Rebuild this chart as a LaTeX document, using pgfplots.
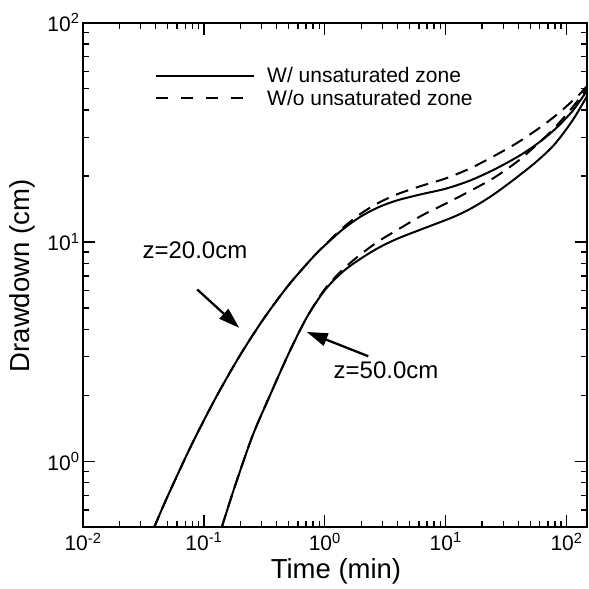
\documentclass[border=0pt]{standalone}
\usepackage{fontspec}
\setmainfont{Liberation Sans}
\usepackage{pgfplots}
\pgfplotsset{compat=1.18}
\usetikzlibrary{arrows.meta}
\newcommand{\tickfont}{\fontsize{21}{25}\selectfont}
\newcommand{\labfont}{\fontsize{27.5}{32}\selectfont}
\newcommand{\legfont}{\fontsize{21}{25}\selectfont}
\newcommand{\annfont}{\fontsize{24}{28}\selectfont}
\begin{document}
\begin{tikzpicture}
\begin{axis}[
  xmode=log, ymode=log,
  scale only axis, width=504pt, height=504.6pt,
  xmin=0.01, xmax=147.5, ymin=0.5, ymax=100,
  clip mode=individual,
  axis line style={line width=2pt},
  every tick/.style={black, line width=1.3pt},
  major tick length=12pt, minor tick length=6pt,
  tick label style={font=\tickfont},
  xticklabel style={yshift=-2pt},
  xticklabel={10\textsuperscript{\pgfmathparse{int(round(\tick/2.302585))}\pgfmathresult}},
  yticklabel={10\textsuperscript{\pgfmathparse{int(round(\tick/2.302585))}\pgfmathresult}},
  xlabel={Time (min)}, ylabel={Drawdown (cm)},
  label style={font=\labfont},
  xlabel style={at={(rel axis cs:0.502,-0.0875)}, anchor=center},
  ylabel style={at={(rel axis cs:-0.120,0.498)}, anchor=center, rotate=0},
  legend style={at={(rel axis cs:0.137,0.918)}, anchor=north west, draw=none, fill=none, font=\legfont,
    row sep=4pt, column sep=11pt, nodes={inner sep=1pt}},
  legend cell align=left,
  legend image code/.code={\draw[#1] (0pt,0pt) -- (98pt,0pt);},
  every axis plot/.append style={line width=2pt, black},
]
\addlegendimage{line width=2pt, solid}
\addlegendentry{W/ unsaturated zone}
\addlegendimage{line width=2pt, dash pattern=on 12pt off 13pt}
\addlegendentry{W/o unsaturated zone}

% z = 20 cm, with unsaturated zone
\addplot[smooth, forget plot] coordinates {
(0.0387,0.4985) (0.05012,0.6926) (0.07943,1.194) (0.1259,1.957) (0.1995,3.049) (0.3162,4.512)
(0.5012,6.353) (0.7943,8.501) (1,9.643) (1.413,11.43) (1.995,13.09) (2.818,14.45) (3.981,15.49)
(6.310,16.52) (10,17.50) (15.85,19.05) (25.12,21.38) (39.81,24.55) (56.23,27.86) (79.43,32.51)
(112.2,39.63) (147.5,48.98)};
% z = 20 cm, without unsaturated zone
\addplot[smooth, forget plot, dash pattern=on 13pt off 8pt] coordinates {
(0.0387,0.4985) (0.05012,0.6926) (0.07943,1.194) (0.1259,1.957) (0.1995,3.049) (0.3162,4.512)
(0.5012,6.353) (0.7943,8.501) (1,9.683) (1.413,11.61) (1.995,13.49) (2.818,15.14) (3.981,16.52)
(6.310,18.03) (10,19.50) (15.85,21.63) (25.12,24.66) (39.81,28.51) (63.10,33.88) (89.13,39.36)
(125.9,46.77) (147.5,51.40)};
% z = 50 cm, with unsaturated zone
\addplot[smooth, forget plot] coordinates {
(0.1403,0.4985) (0.1778,0.7499) (0.2512,1.297) (0.3548,2.018) (0.5012,3.090) (0.7079,4.519)
(1,6.026) (1.413,7.328) (1.995,8.414) (2.818,9.441) (3.981,10.35) (6.310,11.43) (10,12.59)
(12.59,13.27) (15.85,14.13) (19.95,15.21) (25.12,16.52) (31.62,18.11) (39.81,19.95) (56.23,23.23)
(79.43,27.86) (112.2,35.89) (147.5,46.24)};
% z = 50 cm, without unsaturated zone
\addplot[smooth, forget plot, dash pattern=on 13pt off 8pt] coordinates {
(0.1403,0.4985) (0.1778,0.7499) (0.2512,1.297) (0.3548,2.018) (0.5012,3.090) (0.7079,4.519)
(1,6.095) (1.413,7.499) (1.995,8.810) (2.818,10.12) (3.981,11.35) (6.310,13.18) (10,14.96)
(15.85,17.06) (25.12,19.63) (39.81,23.45) (56.23,27.67) (79.43,33.11) (112.2,41.21) (147.5,50.12)};

\draw[line width=2.3pt, -{Triangle[length=21pt,width=13pt]}] (axis cs:0.0881,6.075) -- (axis cs:0.1963,4.058);
\draw[line width=2.3pt, -{Triangle[length=21pt,width=13pt]}] (axis cs:2.29,3.013) -- (axis cs:0.708,3.89);
\node[font=\annfont] at (axis cs:0.0843,9.18) {z=20.0cm};
\node[font=\annfont] at (axis cs:3.21,2.60) {z=50.0cm};
\path (rel axis cs:-0.1647,-0.1223) rectangle (rel axis cs:1,1.045);
\end{axis}
\end{tikzpicture}
\end{document}
